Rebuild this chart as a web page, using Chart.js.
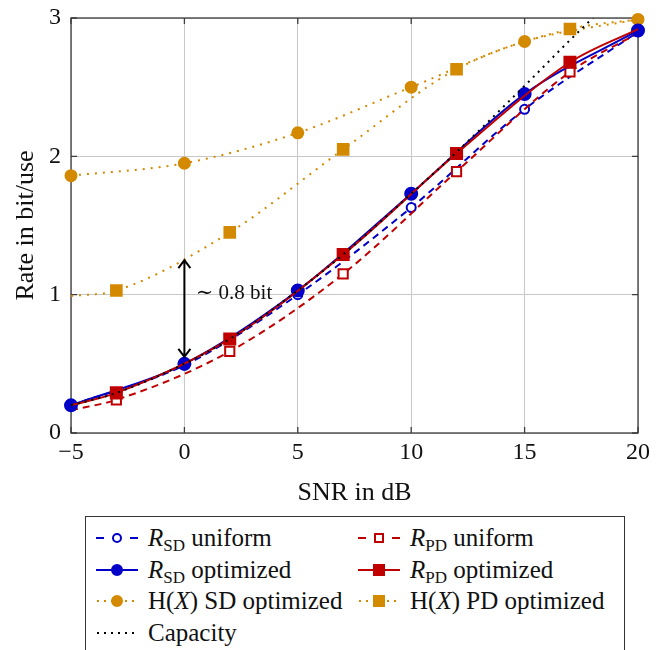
<!DOCTYPE html>
<html>
<head>
<meta charset="utf-8">
<script src="https://cdn.jsdelivr.net/npm/chart.js@4.4.1/dist/chart.umd.min.js"></script>
<style>
  html, body { margin: 0; padding: 0; background: #fff; }
  #wrap { position: relative; width: 660px; height: 650px; overflow: hidden; font-family: "Liberation Serif", "DejaVu Serif", serif; }
  #chart { position: absolute; left: 0; top: 0; }
  #legend { position: absolute; left: 85px; top: 516px; width: 540px; height: 160px; border: 1px solid #333; box-sizing: border-box; background: #fff; }
  .item { position: absolute; display: flex; align-items: center; height: 30px; font-size: 25px; color: #111; white-space: nowrap; }
  .item svg { margin-right: 10px; flex: none; }
  .item sub { font-size: 17px; vertical-align: -5px; line-height: 0; }
</style>
</head>
<body>
<div id="wrap">
  <canvas id="chart" width="660" height="650"></canvas>
  <div id="legend"></div>
</div>
<script>
// ---- data ----
const snrSD = [-5, 0, 5, 10, 15, 20];
const rSdUniform   = [0.20, 0.49, 1.00, 1.63, 2.34, 2.90];
const rSdOptimized = [0.20, 0.50, 1.03, 1.73, 2.45, 2.91];
const hxSdOptimized = [1.86, 1.95, 2.17, 2.50, 2.83, 2.99];

// PD curves: markers at -3, 2, 7, 12, 17 (end points without marker)
const snrPD = [-5, -3, 2, 7, 12, 17, 20];
const rPdUniform   = [0.165, 0.24, 0.59, 1.15, 1.89, 2.61, 2.89];
const rPdOptimized = [0.20, 0.29, 0.68, 1.29, 2.02, 2.68, 2.92];
const hxPdOptimized = [0.99, 1.03, 1.45, 2.05, 2.63, 2.92, 2.99];

const snrCap   = [-5, -3, 0, 2, 5, 7, 10, 12, 15, 17, 18, 19];
const capacity = [0.20, 0.29, 0.50, 0.68, 1.03, 1.29, 1.73, 2.03, 2.51, 2.84, 3.00, 3.17];

const xTicks = [-5, 0, 5, 10, 15, 20];
const yTicks = [0, 1, 2, 3];

// gap annotation at 0 dB
const gapSnr = 0, gapFrom = 0.55, gapTo = 1.25;
const gapLabel = "\u223C 0.8 bit";

const BLUE = "#0000c8", RED = "#c00000", ORANGE = "#d38900";
const FONT = '"Liberation Serif", "DejaVu Serif", serif';

const pts = (xs, ys) => xs.map((v, i) => ({ x: v, y: ys[i] }));
const pdRadius = (r) => snrPD.map((v, i) => (i === 0 || i === snrPD.length - 1 ? 0 : r));

// ---- frame with inward ticks (pgfplots look) ----
const framePlugin = {
  id: "frame",
  beforeDatasetsDraw(chart) {
    const { ctx, chartArea: a, scales: { x, y } } = chart;
    ctx.save();
    ctx.strokeStyle = "#3c3c3c";
    ctx.lineWidth = 1.3;
    ctx.beginPath();
    xTicks.forEach((t) => {
      const px = x.getPixelForValue(t);
      ctx.moveTo(px, a.bottom); ctx.lineTo(px, a.bottom - 6);
      ctx.moveTo(px, a.top); ctx.lineTo(px, a.top + 6);
    });
    yTicks.forEach((t) => {
      const py = y.getPixelForValue(t);
      ctx.moveTo(a.left, py); ctx.lineTo(a.left + 6, py);
      ctx.moveTo(a.right, py); ctx.lineTo(a.right - 6, py);
    });
    ctx.stroke();
    ctx.strokeRect(a.left, a.top, a.right - a.left, a.bottom - a.top);
    ctx.restore();
  },
};

// ---- double arrow + label ----
const gapPlugin = {
  id: "gap",
  afterDatasetsDraw(chart) {
    const { ctx, scales: { x, y } } = chart;
    const px = x.getPixelForValue(gapSnr);
    const top = y.getPixelForValue(gapTo), bot = y.getPixelForValue(gapFrom);
    ctx.save();
    ctx.strokeStyle = "#000";
    ctx.lineWidth = 2;
    ctx.beginPath();
    ctx.moveTo(px, top); ctx.lineTo(px, bot);
    ctx.moveTo(px - 6, top + 8); ctx.lineTo(px, top); ctx.lineTo(px + 6, top + 8);
    ctx.moveTo(px - 6, bot - 8); ctx.lineTo(px, bot); ctx.lineTo(px + 6, bot - 8);
    ctx.stroke();
    ctx.fillStyle = "#111";
    ctx.font = "21px " + FONT;
    ctx.textBaseline = "middle";
    ctx.fillText(gapLabel, x.getPixelForValue(0.5), y.getPixelForValue(1.01));
    ctx.restore();
  },
};

const datasets = [
  { label: "Capacity", data: pts(snrCap, capacity), borderColor: "#000", borderWidth: 2,
    borderDash: [2, 5], pointRadius: 0, order: 1 },
  { label: "R_PD optimized", data: pts(snrPD, rPdOptimized), borderColor: RED, borderWidth: 2,
    pointStyle: "rect", pointRadius: pdRadius(7.8), pointBackgroundColor: RED, pointBorderColor: RED, order: 2, clip: false },
  { label: "R_SD optimized", data: pts(snrSD, rSdOptimized), borderColor: BLUE, borderWidth: 2,
    pointStyle: "circle", pointRadius: 6, pointBackgroundColor: BLUE, pointBorderColor: BLUE, order: 3, clip: false },
  { label: "R_PD uniform", data: pts(snrPD, rPdUniform), borderColor: RED, borderWidth: 2, borderDash: [7, 5],
    pointStyle: "rect", pointRadius: pdRadius(6.5), pointBackgroundColor: "#fff", pointBorderColor: RED, pointBorderWidth: 2, order: 4, clip: false },
  { label: "R_SD uniform", data: pts(snrSD, rSdUniform), borderColor: BLUE, borderWidth: 2, borderDash: [7, 5],
    pointStyle: "circle", pointRadius: 4.5, pointBackgroundColor: "#fff", pointBorderColor: BLUE, pointBorderWidth: 2, order: 5, clip: false },
  { label: "H(X) SD optimized", data: pts(snrSD, hxSdOptimized), borderColor: ORANGE, borderWidth: 2, borderDash: [2, 6],
    pointStyle: "circle", pointRadius: 5.5, pointBackgroundColor: ORANGE, pointBorderColor: ORANGE, order: 6, clip: false },
  { label: "H(X) PD optimized", data: pts(snrPD, hxPdOptimized), borderColor: ORANGE, borderWidth: 2, borderDash: [2, 6],
    pointStyle: "rect", pointRadius: pdRadius(7.5), pointBackgroundColor: ORANGE, pointBorderColor: ORANGE, order: 7, clip: false },
];

new Chart(document.getElementById("chart"), {
  type: "line",
  data: { datasets },
  plugins: [framePlugin, gapPlugin],
  options: {
    responsive: false,
    animation: false,
    layout: { padding: { top: 18, right: 22, left: 0, bottom: 0 } },
    elements: { line: { cubicInterpolationMode: "monotone", fill: false } },
    plugins: { legend: { display: false }, tooltip: { enabled: false } },
    scales: {
      x: {
        type: "linear", min: -5, max: 20,
        afterFit: (s) => { s.height = 217; s.paddingLeft = 0; s.paddingRight = 0; },
        afterBuildTicks: (s) => { s.ticks = xTicks.map((v) => ({ value: v })); },
        grid: { color: "#c8c8c8", lineWidth: 1, drawTicks: false },
        border: { display: false },
        ticks: { padding: 5, color: "#111", font: { family: FONT, size: 24 },
          callback: (v) => String(v).replace("-", "\u2212") },
        title: { display: true, text: "SNR in dB", color: "#111", font: { family: FONT, size: 26 },
          padding: { top: 0, bottom: 141 } },
      },
      y: {
        min: 0, max: 3,
        afterFit: (s) => { s.width = 71; s.paddingTop = 0; s.paddingBottom = 0; },
        afterBuildTicks: (s) => { s.ticks = yTicks.map((v) => ({ value: v })); },
        grid: { color: "#c8c8c8", lineWidth: 1, drawTicks: false },
        border: { display: false },
        ticks: { padding: 10, color: "#111", font: { family: FONT, size: 24 } },
        title: { display: true, text: "Rate in bit/use", color: "#111", font: { family: FONT, size: 26 },
          padding: { top: 11, bottom: 0 } },
      },
    },
  },
});

// ---- legend (HTML so subscripts stay real text) ----
const legendItems = [
  { html: "<i>R</i><sub>SD</sub> uniform", color: BLUE, line: "dash", marker: "circle", open: true, col: 0, row: 0 },
  { html: "<i>R</i><sub>PD</sub> uniform", color: RED, line: "dash", marker: "rect", open: true, col: 1, row: 0 },
  { html: "<i>R</i><sub>SD</sub> optimized", color: BLUE, line: "solid", marker: "circle", col: 0, row: 1 },
  { html: "<i>R</i><sub>PD</sub> optimized", color: RED, line: "solid", marker: "rect", col: 1, row: 1 },
  { html: "H(<i>X</i>) SD optimized", color: ORANGE, line: "dot", marker: "circle", col: 0, row: 2 },
  { html: "H(<i>X</i>) PD optimized", color: ORANGE, line: "dot", marker: "rect", col: 1, row: 2 },
  { html: "Capacity", color: "#000", line: "dot", marker: null, col: 0, row: 3 },
];

function symbol(it) {
  const c = it.color;
  let s = '<svg width="42" height="14" viewBox="0 0 42 14">';
  if (it.line === "dash") {
    s += `<line x1="0" y1="7" x2="8" y2="7" stroke="${c}" stroke-width="2"/>`;
    s += `<line x1="34" y1="7" x2="42" y2="7" stroke="${c}" stroke-width="2"/>`;
  } else if (it.line === "dot") {
    s += `<line x1="1" y1="7" x2="42" y2="7" stroke="${c}" stroke-width="2" stroke-dasharray="2,5"/>`;
  } else {
    s += `<line x1="0" y1="7" x2="42" y2="7" stroke="${c}" stroke-width="2"/>`;
  }
  const fill = it.open ? "#fff" : c;
  if (it.marker === "circle") {
    s += `<circle cx="21" cy="7" r="${it.open ? 4 : 5}" fill="${fill}" stroke="${c}" stroke-width="2"/>`;
  } else if (it.marker === "rect") {
    const h = it.open ? 4 : 5;
    s += `<rect x="${21 - h}" y="${7 - h}" width="${2 * h}" height="${2 * h}" fill="${fill}" stroke="${c}" stroke-width="2"/>`;
  }
  return s + "</svg>";
}

const legendEl = document.getElementById("legend");
const colX = [10, 272], rowY = [6, 38, 69, 101];
legendItems.forEach((it) => {
  const d = document.createElement("div");
  d.className = "item";
  d.style.left = colX[it.col] + "px";
  d.style.top = rowY[it.row] + "px";
  d.innerHTML = symbol(it) + "<span>" + it.html + "</span>";
  legendEl.appendChild(d);
});
</script>
</body>
</html>
